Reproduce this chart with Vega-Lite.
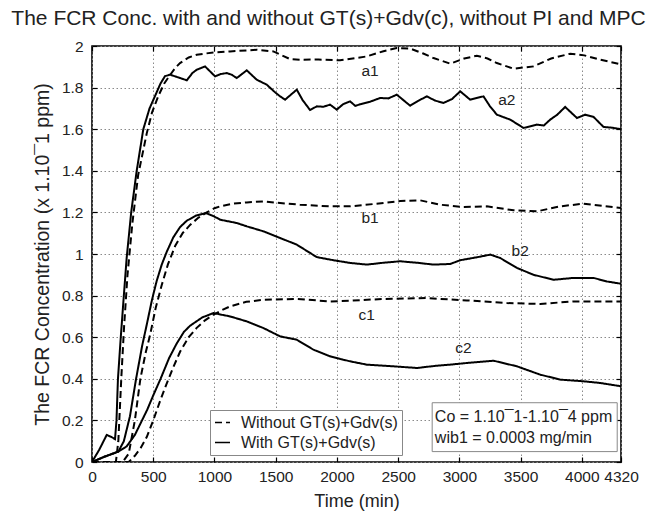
{
  "$schema": "https://vega.github.io/schema/vega-lite/v6.json",
  "width": 529,
  "height": 416,
  "autosize": "none",
  "padding": {"left": 92, "top": 46, "right": 31, "bottom": 55},
  "background": "white",
  "config": {
    "font": "Liberation Sans",
    "view": {"stroke": "black", "strokeWidth": 1.6},
    "axis": {
      "labelFont": "Liberation Sans", "titleFont": "Liberation Sans",
      "labelFontSize": 15.5, "titleFontSize": 18, "titleFontWeight": "normal",
      "labelColor": "#222", "titleColor": "#222",
      "domain": false, "tickColor": "black", "tickWidth": 1.2, "tickSize": -5,
      "gridColor": "#8a8a8a", "gridDash": [1.5, 2.5], "gridWidth": 1, "gridOpacity": 1
    }
  },
  "title": {
    "text": "The FCR Conc. with and without  GT(s)+Gdv(c), without PI and MPC",
    "font": "Liberation Sans", "fontSize": 21, "fontWeight": "normal", "color": "#222",
    "anchor": "middle", "dx": -28, "offset": 10
  },
  "resolve": {"axis": {"x": "independent", "y": "independent"}},
  "datasets": {
    "curves": [
      {"s":"a1","k":"Without GT(s)+Gdv(s)","t":0,"c":0},{"s":"a1","k":"Without GT(s)+Gdv(s)","t":195,"c":0},{"s":"a1","k":"Without GT(s)+Gdv(s)","t":215,"c":0.1},{"s":"a1","k":"Without GT(s)+Gdv(s)","t":239,"c":0.4},{"s":"a1","k":"Without GT(s)+Gdv(s)","t":262,"c":0.65},{"s":"a1","k":"Without GT(s)+Gdv(s)","t":290,"c":0.9},{"s":"a1","k":"Without GT(s)+Gdv(s)","t":330,"c":1.15},{"s":"a1","k":"Without GT(s)+Gdv(s)","t":377,"c":1.38},{"s":"a1","k":"Without GT(s)+Gdv(s)","t":447,"c":1.58},{"s":"a1","k":"Without GT(s)+Gdv(s)","t":490,"c":1.68},{"s":"a1","k":"Without GT(s)+Gdv(s)","t":542,"c":1.76},{"s":"a1","k":"Without GT(s)+Gdv(s)","t":590,"c":1.82},{"s":"a1","k":"Without GT(s)+Gdv(s)","t":637,"c":1.86},{"s":"a1","k":"Without GT(s)+Gdv(s)","t":680,"c":1.895},{"s":"a1","k":"Without GT(s)+Gdv(s)","t":719,"c":1.918},{"s":"a1","k":"Without GT(s)+Gdv(s)","t":790,"c":1.945},{"s":"a1","k":"Without GT(s)+Gdv(s)","t":855,"c":1.958},{"s":"a1","k":"Without GT(s)+Gdv(s)","t":991,"c":1.969},{"s":"a1","k":"Without GT(s)+Gdv(s)","t":1127,"c":1.974},{"s":"a1","k":"Without GT(s)+Gdv(s)","t":1345,"c":1.982},{"s":"a1","k":"Without GT(s)+Gdv(s)","t":1481,"c":1.974},{"s":"a1","k":"Without GT(s)+Gdv(s)","t":1618,"c":1.937},{"s":"a1","k":"Without GT(s)+Gdv(s)","t":1699,"c":1.934},{"s":"a1","k":"Without GT(s)+Gdv(s)","t":1850,"c":1.935},{"s":"a1","k":"Without GT(s)+Gdv(s)","t":2026,"c":1.931},{"s":"a1","k":"Without GT(s)+Gdv(s)","t":2244,"c":1.95},{"s":"a1","k":"Without GT(s)+Gdv(s)","t":2380,"c":1.975},{"s":"a1","k":"Without GT(s)+Gdv(s)","t":2489,"c":1.99},{"s":"a1","k":"Without GT(s)+Gdv(s)","t":2598,"c":1.988},{"s":"a1","k":"Without GT(s)+Gdv(s)","t":2700,"c":1.965},{"s":"a1","k":"Without GT(s)+Gdv(s)","t":2789,"c":1.942},{"s":"a1","k":"Without GT(s)+Gdv(s)","t":2925,"c":1.915},{"s":"a1","k":"Without GT(s)+Gdv(s)","t":3040,"c":1.94},{"s":"a1","k":"Without GT(s)+Gdv(s)","t":3143,"c":1.953},{"s":"a1","k":"Without GT(s)+Gdv(s)","t":3230,"c":1.94},{"s":"a1","k":"Without GT(s)+Gdv(s)","t":3306,"c":1.918},{"s":"a1","k":"Without GT(s)+Gdv(s)","t":3442,"c":1.891},{"s":"a1","k":"Without GT(s)+Gdv(s)","t":3606,"c":1.902},{"s":"a1","k":"Without GT(s)+Gdv(s)","t":3750,"c":1.94},{"s":"a1","k":"Without GT(s)+Gdv(s)","t":3905,"c":1.963},{"s":"a1","k":"Without GT(s)+Gdv(s)","t":4020,"c":1.955},{"s":"a1","k":"Without GT(s)+Gdv(s)","t":4150,"c":1.934},{"s":"a1","k":"Without GT(s)+Gdv(s)","t":4320,"c":1.912},

      {"s":"a2","k":"With GT(s)+Gdv(s)","t":0,"c":0},{"s":"a2","k":"With GT(s)+Gdv(s)","t":60,"c":0.06},{"s":"a2","k":"With GT(s)+Gdv(s)","t":120,"c":0.13},{"s":"a2","k":"With GT(s)+Gdv(s)","t":160,"c":0.12},{"s":"a2","k":"With GT(s)+Gdv(s)","t":188,"c":0.11},{"s":"a2","k":"With GT(s)+Gdv(s)","t":200,"c":0.2},{"s":"a2","k":"With GT(s)+Gdv(s)","t":212,"c":0.4},{"s":"a2","k":"With GT(s)+Gdv(s)","t":235,"c":0.6},{"s":"a2","k":"With GT(s)+Gdv(s)","t":260,"c":0.8},{"s":"a2","k":"With GT(s)+Gdv(s)","t":283,"c":0.98},{"s":"a2","k":"With GT(s)+Gdv(s)","t":320,"c":1.2},{"s":"a2","k":"With GT(s)+Gdv(s)","t":365,"c":1.4},{"s":"a2","k":"With GT(s)+Gdv(s)","t":419,"c":1.6},{"s":"a2","k":"With GT(s)+Gdv(s)","t":470,"c":1.7},{"s":"a2","k":"With GT(s)+Gdv(s)","t":515,"c":1.76},{"s":"a2","k":"With GT(s)+Gdv(s)","t":560,"c":1.82},{"s":"a2","k":"With GT(s)+Gdv(s)","t":596,"c":1.855},{"s":"a2","k":"With GT(s)+Gdv(s)","t":637,"c":1.862},{"s":"a2","k":"With GT(s)+Gdv(s)","t":700,"c":1.85},{"s":"a2","k":"With GT(s)+Gdv(s)","t":774,"c":1.835},{"s":"a2","k":"With GT(s)+Gdv(s)","t":820,"c":1.87},{"s":"a2","k":"With GT(s)+Gdv(s)","t":855,"c":1.886},{"s":"a2","k":"With GT(s)+Gdv(s)","t":923,"c":1.902},{"s":"a2","k":"With GT(s)+Gdv(s)","t":1005,"c":1.854},{"s":"a2","k":"With GT(s)+Gdv(s)","t":1050,"c":1.865},{"s":"a2","k":"With GT(s)+Gdv(s)","t":1100,"c":1.87},{"s":"a2","k":"With GT(s)+Gdv(s)","t":1140,"c":1.862},{"s":"a2","k":"With GT(s)+Gdv(s)","t":1182,"c":1.846},{"s":"a2","k":"With GT(s)+Gdv(s)","t":1264,"c":1.883},{"s":"a2","k":"With GT(s)+Gdv(s)","t":1345,"c":1.838},{"s":"a2","k":"With GT(s)+Gdv(s)","t":1427,"c":1.814},{"s":"a2","k":"With GT(s)+Gdv(s)","t":1490,"c":1.78},{"s":"a2","k":"With GT(s)+Gdv(s)","t":1536,"c":1.758},{"s":"a2","k":"With GT(s)+Gdv(s)","t":1577,"c":1.742},{"s":"a2","k":"With GT(s)+Gdv(s)","t":1672,"c":1.79},{"s":"a2","k":"With GT(s)+Gdv(s)","t":1720,"c":1.74},{"s":"a2","k":"With GT(s)+Gdv(s)","t":1781,"c":1.692},{"s":"a2","k":"With GT(s)+Gdv(s)","t":1836,"c":1.71},{"s":"a2","k":"With GT(s)+Gdv(s)","t":1890,"c":1.708},{"s":"a2","k":"With GT(s)+Gdv(s)","t":1944,"c":1.718},{"s":"a2","k":"With GT(s)+Gdv(s)","t":1999,"c":1.694},{"s":"a2","k":"With GT(s)+Gdv(s)","t":2050,"c":1.72},{"s":"a2","k":"With GT(s)+Gdv(s)","t":2108,"c":1.734},{"s":"a2","k":"With GT(s)+Gdv(s)","t":2150,"c":1.712},{"s":"a2","k":"With GT(s)+Gdv(s)","t":2190,"c":1.72},{"s":"a2","k":"With GT(s)+Gdv(s)","t":2270,"c":1.732},{"s":"a2","k":"With GT(s)+Gdv(s)","t":2353,"c":1.75},{"s":"a2","k":"With GT(s)+Gdv(s)","t":2420,"c":1.748},{"s":"a2","k":"With GT(s)+Gdv(s)","t":2489,"c":1.766},{"s":"a2","k":"With GT(s)+Gdv(s)","t":2598,"c":1.713},{"s":"a2","k":"With GT(s)+Gdv(s)","t":2660,"c":1.735},{"s":"a2","k":"With GT(s)+Gdv(s)","t":2734,"c":1.758},{"s":"a2","k":"With GT(s)+Gdv(s)","t":2800,"c":1.738},{"s":"a2","k":"With GT(s)+Gdv(s)","t":2870,"c":1.726},{"s":"a2","k":"With GT(s)+Gdv(s)","t":2940,"c":1.745},{"s":"a2","k":"With GT(s)+Gdv(s)","t":3007,"c":1.782},{"s":"a2","k":"With GT(s)+Gdv(s)","t":3088,"c":1.742},{"s":"a2","k":"With GT(s)+Gdv(s)","t":3197,"c":1.758},{"s":"a2","k":"With GT(s)+Gdv(s)","t":3250,"c":1.71},{"s":"a2","k":"With GT(s)+Gdv(s)","t":3306,"c":1.67},{"s":"a2","k":"With GT(s)+Gdv(s)","t":3360,"c":1.658},{"s":"a2","k":"With GT(s)+Gdv(s)","t":3415,"c":1.646},{"s":"a2","k":"With GT(s)+Gdv(s)","t":3470,"c":1.626},{"s":"a2","k":"With GT(s)+Gdv(s)","t":3524,"c":1.606},{"s":"a2","k":"With GT(s)+Gdv(s)","t":3633,"c":1.622},{"s":"a2","k":"With GT(s)+Gdv(s)","t":3690,"c":1.618},{"s":"a2","k":"With GT(s)+Gdv(s)","t":3742,"c":1.646},{"s":"a2","k":"With GT(s)+Gdv(s)","t":3800,"c":1.67},{"s":"a2","k":"With GT(s)+Gdv(s)","t":3864,"c":1.707},{"s":"a2","k":"With GT(s)+Gdv(s)","t":3960,"c":1.654},{"s":"a2","k":"With GT(s)+Gdv(s)","t":4028,"c":1.67},{"s":"a2","k":"With GT(s)+Gdv(s)","t":4096,"c":1.659},{"s":"a2","k":"With GT(s)+Gdv(s)","t":4177,"c":1.611},{"s":"a2","k":"With GT(s)+Gdv(s)","t":4250,"c":1.607},{"s":"a2","k":"With GT(s)+Gdv(s)","t":4320,"c":1.6},

      {"s":"b1","k":"Without GT(s)+Gdv(s)","t":0,"c":0},{"s":"b1","k":"Without GT(s)+Gdv(s)","t":250,"c":0},{"s":"b1","k":"Without GT(s)+Gdv(s)","t":300,"c":0.04},{"s":"b1","k":"Without GT(s)+Gdv(s)","t":350,"c":0.2},{"s":"b1","k":"Without GT(s)+Gdv(s)","t":395,"c":0.4},{"s":"b1","k":"Without GT(s)+Gdv(s)","t":440,"c":0.53},{"s":"b1","k":"Without GT(s)+Gdv(s)","t":474,"c":0.61},{"s":"b1","k":"Without GT(s)+Gdv(s)","t":520,"c":0.74},{"s":"b1","k":"Without GT(s)+Gdv(s)","t":569,"c":0.85},{"s":"b1","k":"Without GT(s)+Gdv(s)","t":620,"c":0.95},{"s":"b1","k":"Without GT(s)+Gdv(s)","t":680,"c":1.04},{"s":"b1","k":"Without GT(s)+Gdv(s)","t":740,"c":1.1},{"s":"b1","k":"Without GT(s)+Gdv(s)","t":801,"c":1.14},{"s":"b1","k":"Without GT(s)+Gdv(s)","t":870,"c":1.175},{"s":"b1","k":"Without GT(s)+Gdv(s)","t":937,"c":1.2},{"s":"b1","k":"Without GT(s)+Gdv(s)","t":1000,"c":1.22},{"s":"b1","k":"Without GT(s)+Gdv(s)","t":1046,"c":1.229},{"s":"b1","k":"Without GT(s)+Gdv(s)","t":1150,"c":1.242},{"s":"b1","k":"Without GT(s)+Gdv(s)","t":1264,"c":1.248},{"s":"b1","k":"Without GT(s)+Gdv(s)","t":1400,"c":1.253},{"s":"b1","k":"Without GT(s)+Gdv(s)","t":1536,"c":1.245},{"s":"b1","k":"Without GT(s)+Gdv(s)","t":1699,"c":1.237},{"s":"b1","k":"Without GT(s)+Gdv(s)","t":1944,"c":1.229},{"s":"b1","k":"Without GT(s)+Gdv(s)","t":2108,"c":1.229},{"s":"b1","k":"Without GT(s)+Gdv(s)","t":2380,"c":1.245},{"s":"b1","k":"Without GT(s)+Gdv(s)","t":2520,"c":1.255},{"s":"b1","k":"Without GT(s)+Gdv(s)","t":2680,"c":1.258},{"s":"b1","k":"Without GT(s)+Gdv(s)","t":2843,"c":1.237},{"s":"b1","k":"Without GT(s)+Gdv(s)","t":3034,"c":1.226},{"s":"b1","k":"Without GT(s)+Gdv(s)","t":3224,"c":1.229},{"s":"b1","k":"Without GT(s)+Gdv(s)","t":3442,"c":1.21},{"s":"b1","k":"Without GT(s)+Gdv(s)","t":3633,"c":1.205},{"s":"b1","k":"Without GT(s)+Gdv(s)","t":3824,"c":1.229},{"s":"b1","k":"Without GT(s)+Gdv(s)","t":4014,"c":1.242},{"s":"b1","k":"Without GT(s)+Gdv(s)","t":4320,"c":1.221},

      {"s":"b2","k":"With GT(s)+Gdv(s)","t":0,"c":0},{"s":"b2","k":"With GT(s)+Gdv(s)","t":100,"c":0.025},{"s":"b2","k":"With GT(s)+Gdv(s)","t":215,"c":0.05},{"s":"b2","k":"With GT(s)+Gdv(s)","t":260,"c":0.1},{"s":"b2","k":"With GT(s)+Gdv(s)","t":310,"c":0.22},{"s":"b2","k":"With GT(s)+Gdv(s)","t":360,"c":0.4},{"s":"b2","k":"With GT(s)+Gdv(s)","t":410,"c":0.56},{"s":"b2","k":"With GT(s)+Gdv(s)","t":447,"c":0.66},{"s":"b2","k":"With GT(s)+Gdv(s)","t":490,"c":0.78},{"s":"b2","k":"With GT(s)+Gdv(s)","t":528,"c":0.87},{"s":"b2","k":"With GT(s)+Gdv(s)","t":570,"c":0.95},{"s":"b2","k":"With GT(s)+Gdv(s)","t":610,"c":1.01},{"s":"b2","k":"With GT(s)+Gdv(s)","t":664,"c":1.08},{"s":"b2","k":"With GT(s)+Gdv(s)","t":720,"c":1.13},{"s":"b2","k":"With GT(s)+Gdv(s)","t":774,"c":1.16},{"s":"b2","k":"With GT(s)+Gdv(s)","t":850,"c":1.185},{"s":"b2","k":"With GT(s)+Gdv(s)","t":930,"c":1.197},{"s":"b2","k":"With GT(s)+Gdv(s)","t":1000,"c":1.18},{"s":"b2","k":"With GT(s)+Gdv(s)","t":1046,"c":1.165},{"s":"b2","k":"With GT(s)+Gdv(s)","t":1182,"c":1.149},{"s":"b2","k":"With GT(s)+Gdv(s)","t":1264,"c":1.133},{"s":"b2","k":"With GT(s)+Gdv(s)","t":1400,"c":1.109},{"s":"b2","k":"With GT(s)+Gdv(s)","t":1536,"c":1.077},{"s":"b2","k":"With GT(s)+Gdv(s)","t":1672,"c":1.045},{"s":"b2","k":"With GT(s)+Gdv(s)","t":1781,"c":1.005},{"s":"b2","k":"With GT(s)+Gdv(s)","t":1836,"c":0.985},{"s":"b2","k":"With GT(s)+Gdv(s)","t":1972,"c":0.97},{"s":"b2","k":"With GT(s)+Gdv(s)","t":2108,"c":0.957},{"s":"b2","k":"With GT(s)+Gdv(s)","t":2244,"c":0.949},{"s":"b2","k":"With GT(s)+Gdv(s)","t":2380,"c":0.958},{"s":"b2","k":"With GT(s)+Gdv(s)","t":2516,"c":0.965},{"s":"b2","k":"With GT(s)+Gdv(s)","t":2653,"c":0.958},{"s":"b2","k":"With GT(s)+Gdv(s)","t":2789,"c":0.949},{"s":"b2","k":"With GT(s)+Gdv(s)","t":2925,"c":0.952},{"s":"b2","k":"With GT(s)+Gdv(s)","t":3007,"c":0.97},{"s":"b2","k":"With GT(s)+Gdv(s)","t":3150,"c":0.985},{"s":"b2","k":"With GT(s)+Gdv(s)","t":3252,"c":0.997},{"s":"b2","k":"With GT(s)+Gdv(s)","t":3333,"c":0.981},{"s":"b2","k":"With GT(s)+Gdv(s)","t":3470,"c":0.933},{"s":"b2","k":"With GT(s)+Gdv(s)","t":3606,"c":0.9},{"s":"b2","k":"With GT(s)+Gdv(s)","t":3769,"c":0.876},{"s":"b2","k":"With GT(s)+Gdv(s)","t":3932,"c":0.885},{"s":"b2","k":"With GT(s)+Gdv(s)","t":4096,"c":0.885},{"s":"b2","k":"With GT(s)+Gdv(s)","t":4205,"c":0.868},{"s":"b2","k":"With GT(s)+Gdv(s)","t":4320,"c":0.857},

      {"s":"c1","k":"Without GT(s)+Gdv(s)","t":0,"c":0},{"s":"c1","k":"Without GT(s)+Gdv(s)","t":300,"c":0},{"s":"c1","k":"Without GT(s)+Gdv(s)","t":350,"c":0.03},{"s":"c1","k":"Without GT(s)+Gdv(s)","t":400,"c":0.07},{"s":"c1","k":"Without GT(s)+Gdv(s)","t":447,"c":0.12},{"s":"c1","k":"Without GT(s)+Gdv(s)","t":500,"c":0.2},{"s":"c1","k":"Without GT(s)+Gdv(s)","t":560,"c":0.3},{"s":"c1","k":"Without GT(s)+Gdv(s)","t":605,"c":0.37},{"s":"c1","k":"Without GT(s)+Gdv(s)","t":660,"c":0.45},{"s":"c1","k":"Without GT(s)+Gdv(s)","t":719,"c":0.53},{"s":"c1","k":"Without GT(s)+Gdv(s)","t":790,"c":0.6},{"s":"c1","k":"Without GT(s)+Gdv(s)","t":855,"c":0.645},{"s":"c1","k":"Without GT(s)+Gdv(s)","t":920,"c":0.68},{"s":"c1","k":"Without GT(s)+Gdv(s)","t":991,"c":0.708},{"s":"c1","k":"Without GT(s)+Gdv(s)","t":1060,"c":0.73},{"s":"c1","k":"Without GT(s)+Gdv(s)","t":1127,"c":0.748},{"s":"c1","k":"Without GT(s)+Gdv(s)","t":1260,"c":0.77},{"s":"c1","k":"Without GT(s)+Gdv(s)","t":1400,"c":0.78},{"s":"c1","k":"Without GT(s)+Gdv(s)","t":1672,"c":0.784},{"s":"c1","k":"Without GT(s)+Gdv(s)","t":1944,"c":0.772},{"s":"c1","k":"Without GT(s)+Gdv(s)","t":2100,"c":0.775},{"s":"c1","k":"Without GT(s)+Gdv(s)","t":2380,"c":0.784},{"s":"c1","k":"Without GT(s)+Gdv(s)","t":2734,"c":0.788},{"s":"c1","k":"Without GT(s)+Gdv(s)","t":3061,"c":0.777},{"s":"c1","k":"Without GT(s)+Gdv(s)","t":3388,"c":0.764},{"s":"c1","k":"Without GT(s)+Gdv(s)","t":3660,"c":0.76},{"s":"c1","k":"Without GT(s)+Gdv(s)","t":3932,"c":0.772},{"s":"c1","k":"Without GT(s)+Gdv(s)","t":4320,"c":0.772},

      {"s":"c2","k":"With GT(s)+Gdv(s)","t":0,"c":0},{"s":"c2","k":"With GT(s)+Gdv(s)","t":100,"c":0.025},{"s":"c2","k":"With GT(s)+Gdv(s)","t":215,"c":0.05},{"s":"c2","k":"With GT(s)+Gdv(s)","t":283,"c":0.075},{"s":"c2","k":"With GT(s)+Gdv(s)","t":350,"c":0.13},{"s":"c2","k":"With GT(s)+Gdv(s)","t":400,"c":0.19},{"s":"c2","k":"With GT(s)+Gdv(s)","t":450,"c":0.25},{"s":"c2","k":"With GT(s)+Gdv(s)","t":500,"c":0.32},{"s":"c2","k":"With GT(s)+Gdv(s)","t":560,"c":0.4},{"s":"c2","k":"With GT(s)+Gdv(s)","t":630,"c":0.5},{"s":"c2","k":"With GT(s)+Gdv(s)","t":692,"c":0.57},{"s":"c2","k":"With GT(s)+Gdv(s)","t":750,"c":0.625},{"s":"c2","k":"With GT(s)+Gdv(s)","t":801,"c":0.655},{"s":"c2","k":"With GT(s)+Gdv(s)","t":900,"c":0.695},{"s":"c2","k":"With GT(s)+Gdv(s)","t":991,"c":0.716},{"s":"c2","k":"With GT(s)+Gdv(s)","t":1127,"c":0.7},{"s":"c2","k":"With GT(s)+Gdv(s)","t":1264,"c":0.676},{"s":"c2","k":"With GT(s)+Gdv(s)","t":1400,"c":0.644},{"s":"c2","k":"With GT(s)+Gdv(s)","t":1536,"c":0.604},{"s":"c2","k":"With GT(s)+Gdv(s)","t":1672,"c":0.588},{"s":"c2","k":"With GT(s)+Gdv(s)","t":1808,"c":0.54},{"s":"c2","k":"With GT(s)+Gdv(s)","t":1944,"c":0.508},{"s":"c2","k":"With GT(s)+Gdv(s)","t":2100,"c":0.485},{"s":"c2","k":"With GT(s)+Gdv(s)","t":2244,"c":0.468},{"s":"c2","k":"With GT(s)+Gdv(s)","t":2462,"c":0.46},{"s":"c2","k":"With GT(s)+Gdv(s)","t":2653,"c":0.452},{"s":"c2","k":"With GT(s)+Gdv(s)","t":2800,"c":0.462},{"s":"c2","k":"With GT(s)+Gdv(s)","t":2925,"c":0.468},{"s":"c2","k":"With GT(s)+Gdv(s)","t":3061,"c":0.476},{"s":"c2","k":"With GT(s)+Gdv(s)","t":3279,"c":0.487},{"s":"c2","k":"With GT(s)+Gdv(s)","t":3470,"c":0.46},{"s":"c2","k":"With GT(s)+Gdv(s)","t":3660,"c":0.42},{"s":"c2","k":"With GT(s)+Gdv(s)","t":3824,"c":0.396},{"s":"c2","k":"With GT(s)+Gdv(s)","t":4014,"c":0.388},{"s":"c2","k":"With GT(s)+Gdv(s)","t":4150,"c":0.38},{"s":"c2","k":"With GT(s)+Gdv(s)","t":4320,"c":0.364}
    ],
    "labels": [
      {"name":"a1","t":2271,"c":1.878},
      {"name":"a2","t":3388,"c":1.742},
      {"name":"b1","t":2271,"c":1.173},
      {"name":"b2","t":3497,"c":1.013},
      {"name":"c1","t":2244,"c":0.708},
      {"name":"c2","t":3034,"c":0.548}
    ],
    "box": [{"t0":2778,"t1":4289,"c0":0.05,"c1":0.285}],
    "note": [
      {"line":"Co = 1.10¯1-1.10¯4 ppm","t":2800,"c":0.218},
      {"line":"wib1 = 0.0003 mg/min","t":2800,"c":0.117}
    ]
  },
  "layer": [
    {
      "data": {"name": "curves"},
      "mark": {"type": "line", "color": "black", "strokeWidth": 2, "clip": true},
      "encoding": {
        "x": {"field": "t", "type": "quantitative", "scale": {"domain": [0, 4320], "nice": false},
              "axis": {"title": "Time (min)", "grid": true, "format": "d", "values": [0,500,1000,1500,2000,2500,3000,3500,4000,4320], "labelPadding": 12, "titlePadding": 8, "labelFlush": false}},
        "y": {"field": "c", "type": "quantitative", "scale": {"domain": [0, 2], "nice": false},
              "axis": {"title": "The FCR Concentration (x 1.10¯1 ppm)", "titleFontSize": 19.5, "grid": true, "values": [0,0.2,0.4,0.6,0.8,1,1.2,1.4,1.6,1.8,2], "format": ".1~f", "labelPadding": 14, "titlePadding": 9}},
        "detail": {"field": "s"},
        "strokeDash": {"field": "k", "type": "nominal",
          "scale": {"domain": ["Without GT(s)+Gdv(s)", "With GT(s)+Gdv(s)"], "range": [[7, 4], [1, 0]]},
          "legend": {"title": null, "orient": "none", "legendX": 118, "legendY": 364,
            "symbolType": "stroke", "symbolSize": 225, "symbolStrokeWidth": 1.5, "symbolStrokeColor": "black",
            "labelFontSize": 16, "labelFont": "Liberation Sans", "labelColor": "#222", "labelOffset": 10,
            "fillColor": "white", "strokeColor": "#888", "padding": 4, "rowPadding": 3, "cornerRadius": 0}}
      }
    },
    {
      "data": {"name": "curves"},
      "mark": {"type": "point", "opacity": 0},
      "encoding": {
        "x": {"field": "t", "type": "quantitative", "axis": {"orient": "top", "labels": false, "grid": false, "title": null, "values": [0,500,1000,1500,2000,2500,3000,3500,4000,4320]}},
        "y": {"field": "c", "type": "quantitative", "axis": {"orient": "right", "labels": false, "grid": false, "title": null, "values": [0,0.2,0.4,0.6,0.8,1,1.2,1.4,1.6,1.8,2]}}
      }
    },
    {
      "data": {"name": "box"},
      "mark": {"type": "rect", "fill": "white", "stroke": "#888", "strokeWidth": 1},
      "encoding": {
        "x": {"field": "t0", "type": "quantitative", "axis": null},
        "x2": {"field": "t1"},
        "y": {"field": "c0", "type": "quantitative", "axis": null},
        "y2": {"field": "c1"}
      }
    },
    {
      "data": {"name": "note"},
      "mark": {"type": "text", "align": "left", "baseline": "middle", "fontSize": 16, "font": "Liberation Sans", "color": "#222"},
      "encoding": {
        "x": {"field": "t", "type": "quantitative", "axis": null},
        "y": {"field": "c", "type": "quantitative", "axis": null},
        "text": {"field": "line"}
      }
    },
    {
      "data": {"name": "labels"},
      "mark": {"type": "text", "align": "center", "baseline": "middle", "fontSize": 15.5, "font": "Liberation Sans", "color": "#222"},
      "encoding": {
        "x": {"field": "t", "type": "quantitative", "axis": null},
        "y": {"field": "c", "type": "quantitative", "axis": null},
        "text": {"field": "name"}
      }
    }
  ]
}
